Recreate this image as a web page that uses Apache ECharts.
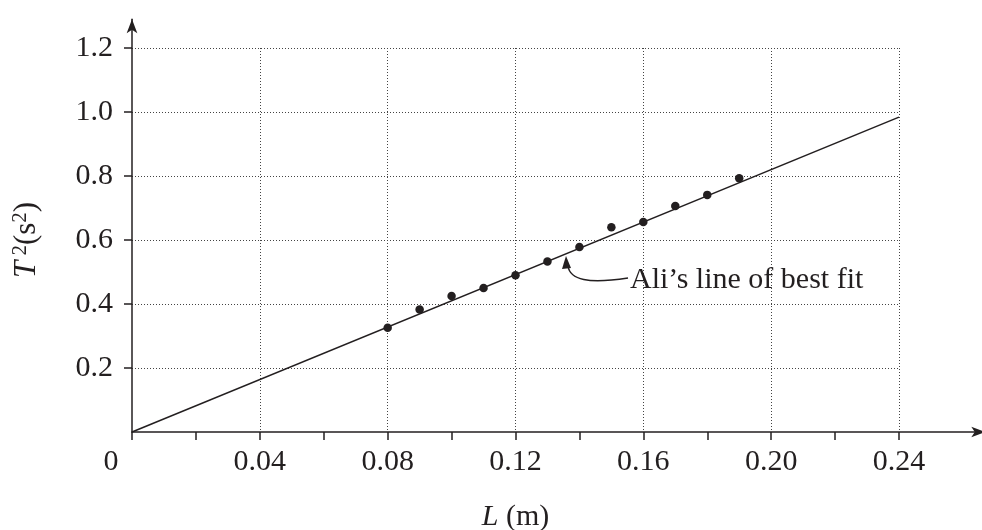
<!DOCTYPE html>
<html>
<head>
<meta charset="utf-8">
<script src="https://cdn.jsdelivr.net/npm/echarts@6/dist/echarts.min.js"></script>
<style>
html, body { margin: 0; padding: 0; background: #fff; }
#main { width: 982px; height: 530px; }
</style>
</head>
<body>
<div id="main"></div>
<script>
/* data */
var lengths = [0.08, 0.09, 0.10, 0.11, 0.12, 0.13, 0.14, 0.15, 0.16, 0.17, 0.18, 0.19];
var periodSq = [0.326, 0.383, 0.425, 0.450, 0.490, 0.533, 0.578, 0.640, 0.656, 0.706, 0.741, 0.793];
var fitL = [0, 0.24];
var fitT2 = [0, 0.984];
var xTicks = [0, 0.02, 0.04, 0.06, 0.08, 0.10, 0.12, 0.14, 0.16, 0.18, 0.20, 0.22, 0.24];
var xLabels = [0, 0.04, 0.08, 0.12, 0.16, 0.20, 0.24];
var yLabels = [0.2, 0.4, 0.6, 0.8, 1.0, 1.2];

var ink = '#231f20';
var serif = 'Liberation Serif';
var fs = 30;

/* inner grid = dotted box 0..0.24 x 0..1.2, outer grid = axes with arrows */
var g = { left: 132, right: 83, top: 48, bottom: 98 };
var W = 982 - g.left - g.right, H = 530 - g.top - g.bottom;
var xMaxOuter = 0.267, yMaxOuter = 1.29;
var outer = {
	left: g.left,
	right: g.right - (xMaxOuter - 0.24) * W / 0.24,
	top: g.top - (yMaxOuter - 1.2) * H / 1.2,
	bottom: g.bottom
};

var dotted = { color: '#444', width: 1, type: [1, 2] };

function pairs(a, b) {
	var out = [];
	for (var i = 0; i < a.length; i++) out.push([a[i], b[i]]);
	return out;
}

var option = {
	animation: false,
	backgroundColor: '#fff',
	textStyle: { fontFamily: serif, color: ink },
	grid: [
		{ left: outer.left, right: outer.right, top: outer.top, bottom: outer.bottom, containLabel: false, outerBoundsMode: 'none' },
		{ left: g.left, right: g.right, top: g.top, bottom: g.bottom, containLabel: false, outerBoundsMode: 'none' }
	],
	xAxis: [{
		gridIndex: 0, type: 'value', min: 0, max: xMaxOuter,
		axisLine: { show: true, symbol: ['none', 'arrow'], symbolSize: [8, 14], lineStyle: { color: ink, width: 1.5 } },
		axisTick: { show: true, inside: false, length: 8, customValues: xTicks, lineStyle: { color: ink, width: 1.5 } },
		axisLabel: {
			show: true, margin: 15, customValues: xLabels, color: ink, fontFamily: serif, fontSize: fs,
			formatter: function (v) { return v === 0 ? '{z|0}' : v.toFixed(2); },
			rich: { z: { fontFamily: serif, fontSize: fs, color: ink, padding: [0, 42, 0, 0] } }
		},
		splitLine: { show: false }
	}, {
		gridIndex: 1, type: 'value', min: 0, max: 0.24, interval: 0.04,
		axisLine: { show: false }, axisTick: { show: false }, axisLabel: { show: false },
		splitLine: { show: true, showMinLine: false, lineStyle: dotted },
		name: '{i|L} (m)', nameLocation: 'middle', nameGap: 70,
		nameTextStyle: {
			fontFamily: serif, fontSize: fs, color: ink,
			rich: { i: { fontFamily: serif, fontSize: fs, fontStyle: 'italic', color: ink } }
		}
	}],
	yAxis: [{
		gridIndex: 0, type: 'value', min: 0, max: yMaxOuter,
		axisLine: { show: true, symbol: ['none', 'arrow'], symbolSize: [8, 14], lineStyle: { color: ink, width: 1.5 } },
		axisTick: { show: true, inside: false, length: 8, customValues: yLabels, lineStyle: { color: ink, width: 1.5 } },
		axisLabel: {
			show: true, margin: 19, customValues: yLabels, color: ink, fontFamily: serif, fontSize: fs,
			formatter: function (v) { return v.toFixed(1); }
		},
		splitLine: { show: false }
	}, {
		gridIndex: 1, type: 'value', min: 0, max: 1.2, interval: 0.2,
		axisLine: { show: false }, axisTick: { show: false }, axisLabel: { show: false },
		splitLine: { show: true, showMinLine: false, lineStyle: dotted },
		name: '{i|T}{s| 2}(s{s|2})', nameLocation: 'middle', nameRotate: 90, nameGap: 88,
		nameTextStyle: {
			fontFamily: serif, fontSize: 31, color: ink, lineHeight: 34,
			rich: {
				i: { fontFamily: serif, fontSize: 31, fontStyle: 'italic', color: ink, lineHeight: 34 },
				s: { fontFamily: serif, fontSize: 21, color: ink, verticalAlign: 'top', lineHeight: 34 }
			}
		}
	}],
	series: [{
		name: 'fit', type: 'line', xAxisIndex: 1, yAxisIndex: 1,
		data: pairs(fitL, fitT2), showSymbol: false, symbol: 'none',
		lineStyle: { color: ink, width: 1.5 }, silent: true, z: 2
	}, {
		name: 'data', type: 'scatter', xAxisIndex: 1, yAxisIndex: 1,
		data: pairs(lengths, periodSq), symbolSize: 8.5,
		itemStyle: { color: ink, opacity: 1 }, z: 3
	}]
};

var chart = echarts.init(document.getElementById('main'), null, { renderer: 'canvas' });
chart.setOption(option);

/* annotation arrow pointing at the fitted line */
var tip = chart.convertToPixel({ xAxisIndex: 1, yAxisIndex: 1 }, [0.1358, 0.55]);
var tx = tip[0], ty = tip[1];
chart.setOption({
	graphic: [{
		type: 'bezierCurve',
		shape: { x1: tx + 62, y1: ty + 22, cpx1: tx + 22, cpy1: ty + 28, x2: tx + 2, y2: ty + 10, cpx2: tx + 4, cpy2: ty + 24 },
		style: { stroke: ink, lineWidth: 1.5, fill: null }
	}, {
		type: 'polygon',
		shape: { points: [[tx, ty], [tx - 4, ty + 13], [tx + 5, ty + 12]] },
		style: { fill: ink }
	}, {
		type: 'text', x: tx + 64, y: ty + 24,
		style: { text: 'Ali’s line of best fit', font: fs + 'px "Liberation Serif"', fill: ink, verticalAlign: 'middle', align: 'left' }
	}]
});
</script>
</body>
</html>
